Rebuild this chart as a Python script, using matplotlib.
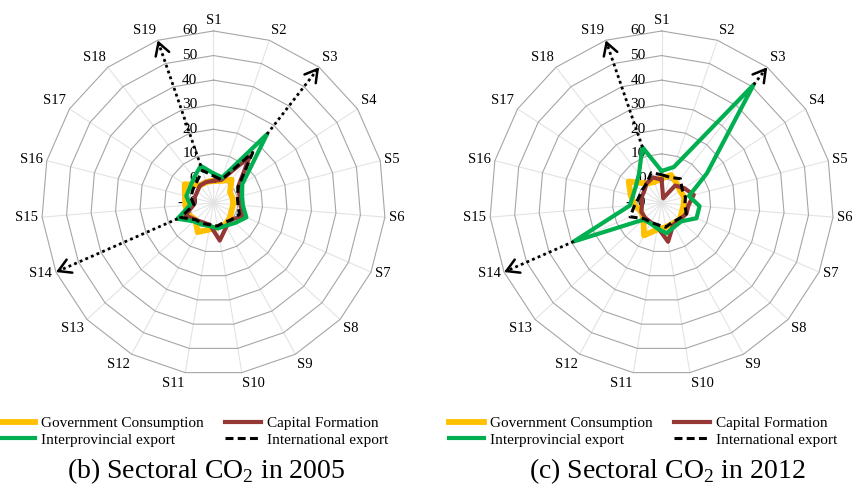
import numpy as np
import matplotlib.pyplot as plt
from matplotlib.lines import Line2D

# ---------------------------------------------------------
# data (axis -10 .. 60)
# ---------------------------------------------------------
sectors = ['S%d' % i for i in range(1, 20)]
rings = [-10, 0, 10, 20, 30, 40, 50, 60]

# (b) 2005
gov_2005 = [-1, -0.5, 2, -2, -2, -2, -2, -1, 0, 0, 1, 3.5, 0, 1.5, 1.5, 2, 4, -1, -1]
cap_2005 = [-1, 0, 14, 2, 1, 1, 3, 0, 1, 5.5, -1, -1, 0, 2.5, -2, -2, -2, -1, -1]
inter_2005 = [2, 1, 25.5, 4, 2, 2, 4.6, 2, 0.5, 0.5, -0.5, 0, 1, 6, -0.5, 1.4, 1.5, 3, 6]
intl_2005 = [1, 0, 16, 2, 0, 0, 1.5, 0, -1, -0.5, -1, -0.5, 0, 4.6, -2, -0.5, 0, 1, 4]

# (c) 2012
gov_2012 = [0, 2, 0, -1, -0.5, -1, -1, 0, -0.5, 0, 1, 5, 0, -1, 1, 3, 6, 0, -1]
cap_2012 = [-0.5, -8, -1, 1, 3.5, 1, 1, 0, 0, 6, 0, -1, -1, -1, -2, -1.5, -1.5, 0, 1]
inter_2012 = [3, 5.5, 51, 12, 1.5, 5.5, 5.5, 1, 1, 2.5, 0.5, -0.5, 0, 29, 3, 2, 2.5, 5, 14]
intl_2012 = [1.5, 1, 2.5, 0, 0, -0.5, 1, -0.5, -1, 0, -1, -1, -0.5, 4, 1, -0.5, -0.5, 0, 3]

series_names = ['Government Consumption', 'Capital Formation',
                'Interprovincial export', 'International export']
arrow_sectors = ['S19', 'S3', 'S14']
titles = [r'(b) Sectoral CO$_{\mathrm{2}}$ in 2005', r'(c) Sectoral CO$_{\mathrm{2}}$ in 2012']

# ---------------------------------------------------------
# style
# ---------------------------------------------------------
plt.rcParams['font.family'] = 'Liberation Serif'
plt.rcParams['mathtext.fontset'] = 'custom'
plt.rcParams['mathtext.rm'] = 'Liberation Serif'

c_gov = '#FFC000'
c_cap = '#953735'
c_inter = '#00B050'
c_intl = '#000000'

theta = np.linspace(0, 2 * np.pi, len(sectors), endpoint=False)
theta_c = np.append(theta, theta[0])


def close(vals):
    return np.append(vals, vals[0])


def draw_radar(ax, gov, cap, inter, intl):
    ax.set_theta_zero_location('N')
    ax.set_theta_direction(-1)
    ax.set_ylim(rings[0], rings[-1])
    ax.grid(False)
    ax.set_xticks([])
    ax.set_yticks([])
    ax.spines['polar'].set_visible(False)

    # polygon grid
    for r in rings[1:]:
        ax.plot(theta_c, [r] * len(theta_c), color='#a6a6a6', lw=0.8, zorder=1, clip_on=False)
    for t in theta:
        ax.plot([t, t], [rings[0], rings[-1]], color='#e3e3e3', lw=0.8, zorder=0.9, clip_on=False)

    # ring labels
    for r in rings:
        ax.annotate(str(r), xy=(0, r), xytext=(-16, 0), textcoords='offset pixels',
                    ha='right', va='center', fontsize=11, annotation_clip=False, zorder=1.5)

    # sector labels
    for t, name in zip(theta, sectors):
        s, c = np.sin(t), np.cos(t)
        ha = 'center' if abs(s) < 0.05 else ('left' if s > 0 else 'right')
        va = 'bottom' if c > 0.5 else ('top' if c < -0.5 else 'center')
        ax.annotate(name, xy=(t, rings[-1]), xytext=(4 * s, 4 * c), textcoords='offset pixels',
                    ha=ha, va=va, fontsize=10.5, annotation_clip=False)

    ax.plot(theta_c, close(gov), color=c_gov, lw=4.2, solid_joinstyle='round', zorder=3, clip_on=False)
    ax.plot(theta_c, close(cap), color=c_cap, lw=3.0, solid_joinstyle='round', zorder=4, clip_on=False)
    ax.plot(theta_c, close(inter), color=c_inter, lw=3.0, solid_joinstyle='round', zorder=5, clip_on=False)
    ax.plot(theta_c, close(intl), color=c_intl, lw=2.2, linestyle=(0, (2.6, 1.4)),
            dash_joinstyle='round', zorder=6, clip_on=False)

    # dotted arrows
    for name in arrow_sectors:
        k = sectors.index(name)
        ax.plot([theta[k], theta[k]], [inter[k], rings[-1] - 1.5], color='black', lw=2,
                linestyle=(0, (1, 1.2)), zorder=7, clip_on=False)
        ax.annotate('', xy=(theta[k], rings[-1]), xytext=(theta[k], rings[-1] - 2),
                    annotation_clip=False,
                    arrowprops=dict(arrowstyle='->,head_length=0.55,head_width=0.32',
                                    lw=1.8, color='black', shrinkA=0, shrinkB=0,
                                    mutation_scale=16))


fig = plt.figure(figsize=(8.54, 4.93), dpi=100)

ax1 = fig.add_axes([0.0486, 0.2394, 0.4028, 0.6978], projection='polar')
ax2 = fig.add_axes([0.5733, 0.2394, 0.4028, 0.6978], projection='polar')
draw_radar(ax1, gov_2005, cap_2005, inter_2005, intl_2005)
draw_radar(ax2, gov_2012, cap_2012, inter_2012, intl_2012)

handles = [Line2D([], [], color=c_gov, lw=4.2),
           Line2D([], [], color=c_cap, lw=3.0),
           Line2D([], [], color=c_inter, lw=3.0),
           Line2D([], [], color=c_intl, lw=2.2, linestyle=(0, (2.6, 1.4)))]
order = [0, 2, 1, 3]
for x0 in [0.0, 0.5258]:
    fig.legend([handles[i] for i in order], [series_names[i] for i in order],
               ncol=2, loc='upper left', bbox_to_anchor=(x0, 0.1554),
               frameon=False, fontsize=11, borderpad=0, borderaxespad=0,
               handlelength=2.3, handletextpad=0.4, columnspacing=1.4, labelspacing=0.2)

fig.text(0.2412, 0.030, titles[0], ha='center', va='baseline', fontsize=20)
fig.text(0.7807, 0.030, titles[1], ha='center', va='baseline', fontsize=20)

plt.savefig('out.png', dpi=100)
